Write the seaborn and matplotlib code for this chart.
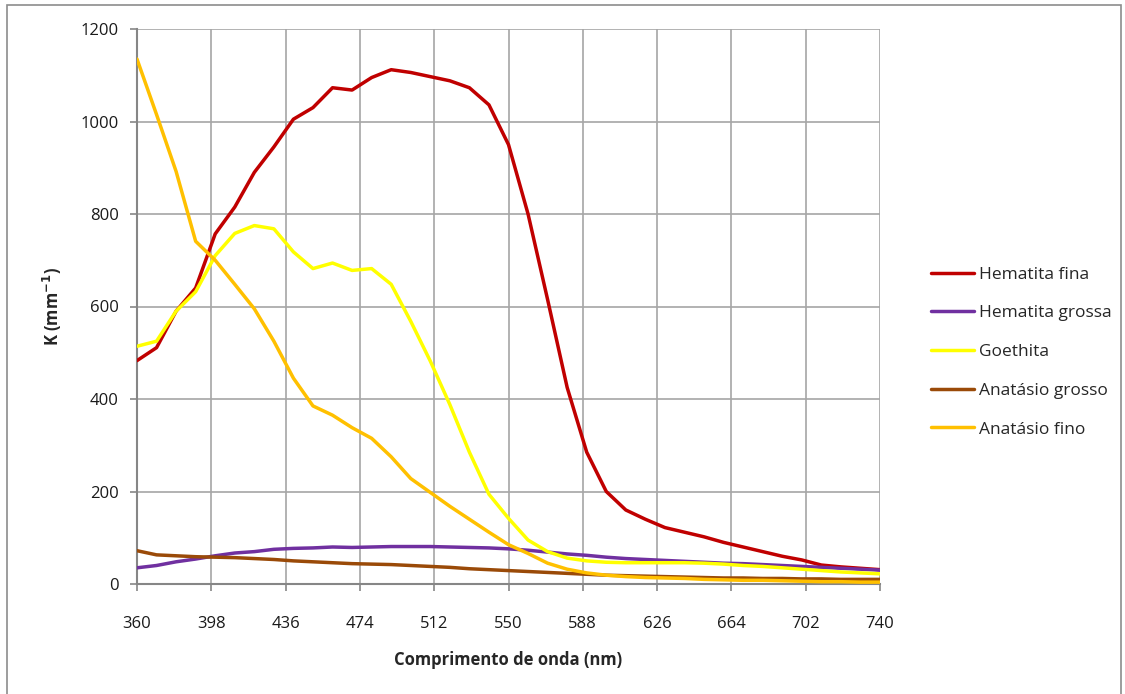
import numpy as np
import pandas as pd
import matplotlib
matplotlib.use("Agg")
import matplotlib.pyplot as plt
from matplotlib.patches import Rectangle
import seaborn as sns

# Wavelength grid (nm)
wavelength = list(range(360, 741, 10))

hematita_fina = [483, 511, 590, 640, 757, 815, 890, 945, 1005, 1030,
                 1073, 1068, 1095, 1112, 1106, 1097, 1088, 1073, 1036, 950,
                 800, 615, 425, 285, 200, 160, 140, 122, 112, 102,
                 90, 80, 70, 60, 52, 41, 37, 34, 31]
hematita_grossa = [35, 40, 48, 54, 61, 67, 70, 75, 77, 78,
                   80, 79, 80, 81, 81, 81, 80, 79, 78, 76,
                   73, 69, 65, 62, 58, 55, 53, 51, 49, 47,
                   45, 44, 42, 40, 38, 36, 34, 32, 30]
goethita = [514, 525, 590, 632, 710, 758, 775, 768, 718, 682,
            694, 678, 682, 648, 568, 482, 388, 285, 194, 142,
            95, 70, 56, 50, 47, 46, 46, 46, 46, 45,
            43, 40, 38, 35, 32, 29, 26, 24, 22]
anatasio_grosso = [72, 63, 61, 59, 58, 57, 55, 53, 50, 48,
                   46, 44, 43, 42, 40, 38, 36, 33, 31, 29,
                   27, 25, 23, 21, 19, 18, 17, 16, 15, 14,
                   13, 13, 12, 12, 11, 11, 10, 10, 10]
anatasio_fino = [1135, 1015, 892, 741, 700, 648, 595, 525, 445, 385,
                 365, 338, 315, 275, 228, 198, 168, 140, 112, 85,
                 66, 45, 32, 24, 19, 16, 14, 13, 12, 10,
                 9, 8, 8, 7, 6, 5, 5, 4, 4]

series_names = ["Hematita fina", "Hematita grossa", "Goethita",
                "Anatásio grosso", "Anatásio fino"]
series_values = [hematita_fina, hematita_grossa, goethita,
                 anatasio_grosso, anatasio_fino]
colors = ["#C00000", "#7030A0", "#FFFF00", "#9A4A08", "#FFC000"]

x_ticks = list(range(360, 741, 38))
y_ticks = list(range(0, 1201, 200))

frames = []
for name, vals in zip(series_names, series_values):
    frames.append(pd.DataFrame({"wl": wavelength, "K": vals, "serie": name}))
df = pd.concat(frames, ignore_index=True)

sns.set_style("white")
plt.rcParams["font.family"] = ["Open Sans", "DejaVu Sans"]

W, H = 1125, 694
fig = plt.figure(figsize=(W / 100, H / 100), dpi=100)
ax = fig.add_axes([137 / W, 1 - 584 / H, (880 - 137) / W, (584 - 29) / H])

sns.lineplot(data=df, x="wl", y="K", hue="serie", hue_order=series_names,
             palette=colors, linewidth=2.5, ax=ax, legend=False, zorder=3)
for line in ax.get_lines():
    line.set_solid_joinstyle("round")
    line.set_solid_capstyle("round")

ax.set_xlim(360, 740)
ax.set_ylim(0, 1200)
ax.set_xticks(x_ticks)
ax.set_yticks(y_ticks)
ax.grid(True, color="#A6A6A6", linewidth=1.2, zorder=0)
ax.set_axisbelow(True)

for side in ["top", "right"]:
    ax.spines[side].set_visible(False)
for side in ["left", "bottom"]:
    ax.spines[side].set_color("#868686")
    ax.spines[side].set_linewidth(1.5)

ax.tick_params(axis="x", direction="out", length=5, width=1.2, color="#868686",
               pad=18, labelsize=12, labelcolor="#1a1a1a", bottom=True)
ax.tick_params(axis="y", direction="out", length=5, width=1.2, color="#868686",
               pad=8, labelsize=12, labelcolor="#1a1a1a", left=True)

ax.set_xlabel("Comprimento de onda (nm)", fontsize=12, fontweight="bold",
              labelpad=14)
ax.set_ylabel("K (mm$^{\\mathbf{-1}}$)", fontsize=12, fontweight="bold",
              labelpad=12)

handles = [plt.Line2D([], [], color=c, linewidth=2.5) for c in colors]
fig.legend(handles, series_names, loc="center left",
           bbox_to_anchor=(915 / W, 1 - 352 / H), frameon=False,
           fontsize=12.5, handlelength=2.5, handletextpad=0.3,
           labelspacing=1.3)

fig.patches.append(Rectangle((7 / W, -0.01), (1121 - 7) / W, 1 - 5 / H + 0.01,
                             transform=fig.transFigure, fill=False,
                             edgecolor="#8C8C8C", linewidth=1.2))

fig.savefig("out.png", dpi=100, facecolor="white")
